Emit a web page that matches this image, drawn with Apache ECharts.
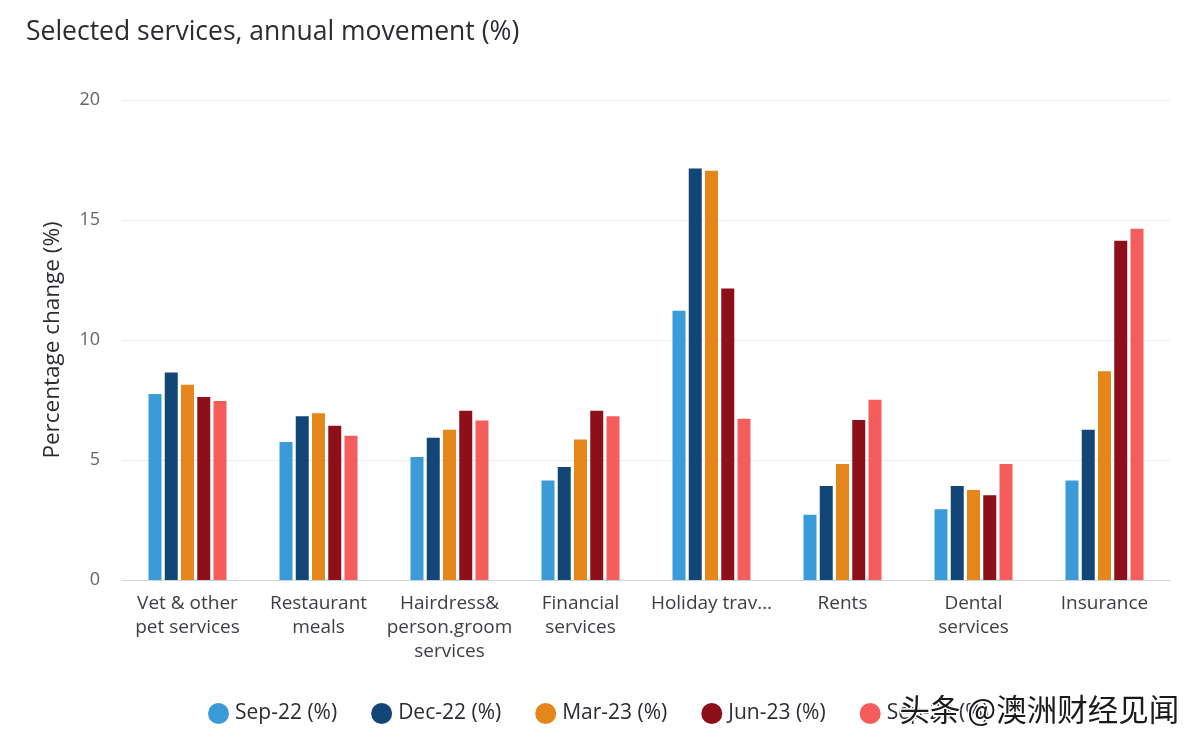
<!DOCTYPE html>
<html>
<head>
<meta charset="utf-8">
<script src="https://cdn.jsdelivr.net/npm/echarts@6/dist/echarts.min.js"></script>
<style>
  html, body { margin: 0; padding: 0; background: #ffffff; }
  #chart { width: 1202px; height: 752px; }
</style>
</head>
<body>
<div id="chart"></div>
<script>
const categories = [
  "Vet & other\npet services",
  "Restaurant\nmeals",
  "Hairdress&\nperson.groom\nservices",
  "Financial\nservices",
  "Holiday trav...",
  "Rents",
  "Dental\nservices",
  "Insurance"
];
const seriesNames = ["Sep-22 (%)", "Dec-22 (%)", "Mar-23 (%)", "Jun-23 (%)", "Sep-23 (%)"];
const sep22 = [7.75, 5.75, 5.13, 4.15, 11.22, 2.72, 2.95, 4.15];
const dec22 = [8.65, 6.82, 5.93, 4.71, 17.15, 3.92, 3.92, 6.26];
const mar23 = [8.14, 6.95, 6.26, 5.85, 17.05, 4.83, 3.75, 8.70];
const jun23 = [7.63, 6.43, 7.05, 7.05, 12.15, 6.67, 3.53, 14.14];
const sep23 = [7.46, 6.01, 6.65, 6.82, 6.72, 7.51, 4.83, 14.64];
const yTicks = [0, 5, 10, 15, 20];
const colors = ["#3b9bd8", "#124677", "#e5861b", "#8c0f19", "#f45d5b"];

const allValues = [sep22, dec22, mar23, jun23, sep23];
const font = "'Open Sans', 'Noto Sans', sans-serif";

const chart = echarts.init(document.getElementById('chart'));
chart.setOption({
  backgroundColor: '#ffffff',
  animation: false,
  title: {
    text: 'Selected services, annual movement (%)',
    left: 21,
    top: 14,
    textStyle: { fontFamily: font, fontSize: 26.5, fontWeight: 'normal', color: '#2b2b33' }
  },
  legend: {
    data: seriesNames,
    left: 203,
    top: 698,
    icon: 'circle',
    itemWidth: 21,
    itemHeight: 21,
    itemGap: 34,
    textStyle: { fontFamily: font, fontSize: 21, fontWeight: 500, color: '#2b2b33', padding: [0, 0, 0, 1] }
  },
  grid: { left: 122, right: 32, top: 100, bottom: 172 },
  xAxis: {
    type: 'category',
    data: categories,
    axisLine: { lineStyle: { color: '#ccd6df', width: 1 } },
    axisTick: { show: false },
    axisLabel: {
      interval: 0,
      margin: 12,
      fontFamily: font,
      fontSize: 19,
      lineHeight: 24,
      color: '#3d3d45'
    }
  },
  yAxis: {
    type: 'value',
    min: yTicks[0],
    max: yTicks[yTicks.length - 1],
    interval: 5,
    name: 'Percentage change (%)',
    nameLocation: 'middle',
    nameGap: 58,
    nameTextStyle: { fontFamily: font, fontSize: 22.5, color: '#2b2b33' },
    axisLine: { show: false },
    axisTick: { show: false },
    axisLabel: { fontFamily: font, fontSize: 18, color: '#666666', margin: 22 },
    splitLine: { lineStyle: { color: '#e6ecf2', width: 1 } }
  },
  series: seriesNames.map((name, i) => ({
    name: name,
    type: 'bar',
    data: allValues[i],
    barWidth: 13,
    barGap: '25%',
    itemStyle: { color: colors[i] }
  })),
  graphic: [{
    type: 'text',
    left: 898,
    top: 693,
    z: 100,
    style: {
      text: '头条 @澳洲财经见闻',
      fontFamily: "'Noto Sans CJK SC', sans-serif",
      fontSize: 30.5,
      fill: '#1a1a1a',
      stroke: '#ffffff',
      lineWidth: 3
    }
  }]
});
</script>
</body>
</html>
